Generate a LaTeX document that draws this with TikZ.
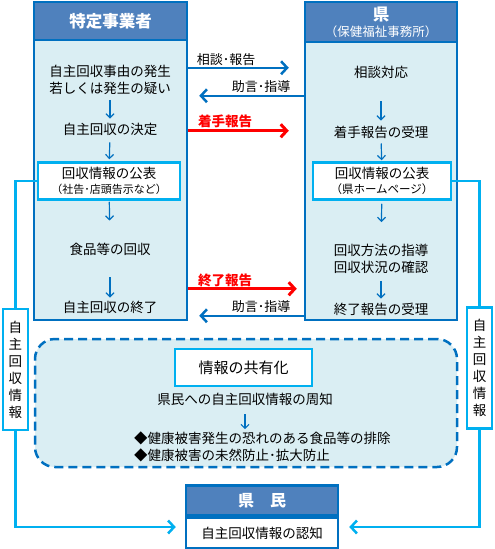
\documentclass[tikz,border=0pt]{standalone}
\usepackage{fontspec}
\setmainfont{Noto Sans CJK JP}
\usetikzlibrary{calc,positioning,arrows.meta}
\definecolor{hdrblue}{HTML}{4F81BD}
\definecolor{edgeblue}{HTML}{0070C0}
\definecolor{paleblue}{HTML}{DAEEF3}
\definecolor{skyblue}{HTML}{00B0F0}
\definecolor{alertred}{HTML}{FF0000}

\begin{document}
\begin{tikzpicture}[x=1pt,y=-1pt,font=\fontsize{13.5}{17}\selectfont,
  colbody/.style={draw=edgeblue,line width=2.5pt,fill=paleblue,inner sep=0pt},
  colhead/.style={draw=edgeblue,line width=2.5pt,fill=hdrblue,text=white,inner sep=0pt,align=center},
  stepnode/.style={inner sep=1pt,align=center},
  pubbox/.style={draw=skyblue,line width=2.5pt,fill=white,align=center,inner sep=0pt,minimum height=37pt},
  sidebox/.style={draw=skyblue,line width=2.5pt,fill=white,align=center,inner sep=0pt,minimum width=25pt,minimum height=121pt},
  talklabel/.style={font=\fontsize{13}{14}\selectfont,inner sep=1pt},
  reportlabel/.style={font=\fontsize{13.5}{15}\selectfont\bfseries,text=alertred,inner sep=1pt},
  steparrow/.style={-{Straight Barb[length=4pt,width=8pt]},edgeblue,line width=1.2pt},
  talkarrow/.style={-{Straight Barb[length=6pt,width=13pt]},edgeblue,line width=2.5pt},
  reportarrow/.style={-{Straight Barb[length=6pt,width=13pt]},alertred,line width=3pt},
  infoline/.style={skyblue,line width=2.5pt}]
\useasboundingbox[fill=white] (0,0) rectangle (495,549);

\node[colbody,minimum width=153pt,minimum height=318pt] (bizcol) at (110.5,161) {};
\node[colhead,minimum width=153pt,minimum height=38pt,anchor=north] (bizhead) at (bizcol.north)
  {\fontsize{16.5}{18}\selectfont\bfseries 特定事業者};
\node[colbody,minimum width=152pt,minimum height=318pt] (prefcol) at (381,161) {};
\node[colhead,minimum width=152pt,minimum height=40pt,anchor=north] (prefhead) at (prefcol.north)
  {{\fontsize{16.5}{18}\selectfont\bfseries 県}\\[-1pt]{\fontsize{12.5}{14}\selectfont （保健福祉事務所）}};

\node[stepnode] (causeL) at (110,80) {自主回収事由の発生\\若しくは発生の疑い};
\node[stepnode] (decideL) at (110,129) {自主回収の決定};
\node[pubbox,minimum width=142pt] (pubL) at (109,181)
  {回収情報の公表\\[-2pt]{\fontsize{11}{12}\selectfont （社告･店頭告示など）}};
\node[stepnode] (foodL) at (110,249) {食品等の回収};
\node[stepnode] (endL) at (110,307) {自主回収の終了};
\draw[steparrow,shorten <=4pt,shorten >=3pt] (causeL) -- (decideL);
\draw[steparrow,shorten <=6pt,shorten >=2pt] (decideL) -- (pubL);
\draw[steparrow,shorten <=1pt,shorten >=21pt] (pubL) -- (foodL);
\draw[steparrow,shorten <=21pt,shorten >=2pt] (foodL) -- (endL);

\node[stepnode] (consultR) at (381,72) {相談対応};
\node[stepnode] (startR) at (381,132) {着手報告の受理};
\node[pubbox,minimum width=138pt] (pubR) at (382,181)
  {回収情報の公表\\[-2pt]{\fontsize{11.5}{12}\selectfont （県ホームページ）}};
\node[stepnode] (guideR) at (381,259) {回収方法の指導\\回収状況の確認};
\node[stepnode] (endR) at (381,309) {終了報告の受理};
\draw[steparrow,shorten <=22pt,shorten >=4pt] (consultR) -- (startR);
\draw[steparrow,shorten <=4pt,shorten >=1pt] (startR) -- (pubR);
\draw[steparrow,shorten <=3pt,shorten >=21pt] (pubR) -- (guideR);
\draw[steparrow,shorten <=6pt,shorten >=3pt] (guideR) -- (endR);

\node[talklabel] (askT) at (226,60) {相談･報告};
\node[talklabel] (adviceT) at (261,87) {助言･指導};
\node[reportlabel] (startT) at (225,122) {\underline{着手報告}};
\node[reportlabel] (finishT) at (225,281) {\underline{終了報告}};
\node[talklabel] (advice2T) at (261,307) {助言･指導};
\draw[talkarrow,shorten >=15pt] ($(bizcol.north east)+(0,67)$) -- ($(prefcol.north west)+(0,67)$);
\draw[talkarrow,shorten >=11pt] ($(prefcol.north west)+(0,95)$) -- ($(bizcol.north east)+(0,95)$);
\draw[reportarrow,shorten >=15pt] ($(bizcol.north east)+(0,130)$) -- ($(prefcol.north west)+(0,130)$);
\draw[reportarrow,shorten >=7pt] ($(bizcol.north east)+(0,288)$) -- ($(prefcol.north west)+(0,288)$);
\draw[talkarrow,shorten >=11pt] ($(prefcol.north west)+(0,315)$) -- ($(bizcol.north east)+(0,315)$);

\node[draw=edgeblue,line width=2.5pt,dash pattern=on 9pt off 5pt,fill=paleblue,rounded corners=20pt,
  minimum width=422pt,minimum height=128pt] (sharearea) at (246,403) {};
\node[pubbox,minimum width=137pt] (shareT) at (243.5,367.5) {\fontsize{15}{17}\selectfont 情報の共有化};
\node[stepnode] (noticeT) at (245,399) {県民への自主回収情報の周知};
\node[stepnode,align=left,anchor=west] (goalT) at (133,446.5)
  {◆健康被害発生の恐れのある食品等の排除\\◆健康被害の未然防止･拡大防止};
\draw[steparrow,shorten <=8pt,shorten >=1pt] (noticeT) -- (noticeT |- goalT.north);

\node[draw=edgeblue,line width=2.5pt,fill=white,inner sep=0pt,minimum width=152pt,minimum height=30pt]
  (kbody) at (262,533) {自主回収情報の認知};
\node[colhead,minimum width=152pt,minimum height=30pt,anchor=south] (khead) at (kbody.north)
  {\fontsize{16}{18}\selectfont\bfseries 県　民};

\node[sidebox] (sideL) at (15.5,369.5) {自\\主\\回\\収\\情\\報};
\node[sidebox] (sideR) at (479.5,368) {自\\主\\回\\収\\情\\報};
\draw[infoline] (pubL.west) -| (sideL.north);
\draw[infoline] (pubR.east) -| (sideR.north);
\draw[infoline,-{Straight Barb[length=6pt,width=13pt]},shorten >=9pt] (sideL.south) |- ([yshift=6pt]kbody.west);
\draw[infoline,-{Straight Barb[length=6pt,width=13pt]},shorten >=10pt] (sideR.south) |- ([yshift=6pt]kbody.east);
\end{tikzpicture}
\end{document}
